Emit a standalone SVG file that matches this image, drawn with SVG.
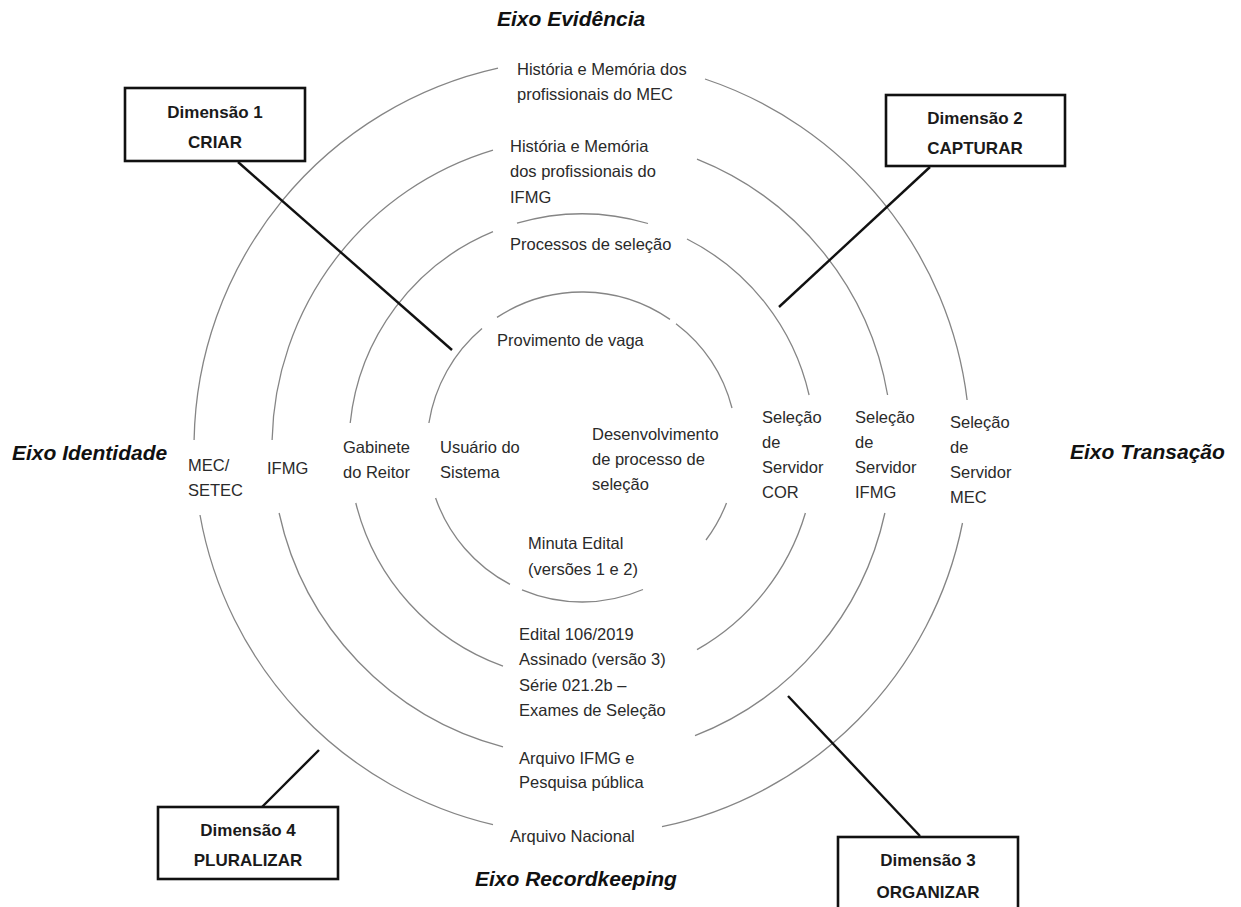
<svg xmlns="http://www.w3.org/2000/svg" width="1241" height="907" viewBox="0 0 1241 907">
<style>
.ring{fill:none;stroke:#858585;stroke-width:1.3}
.lbl{font-family:"Liberation Sans",Arial,sans-serif;font-size:16.5px;fill:#2a2a2a}
.axis{font-family:"Liberation Sans",Arial,sans-serif;font-size:21px;font-weight:bold;font-style:italic;fill:#111}
.box{fill:#fff;stroke:#111;stroke-width:2.6}
.dim{font-family:"Liberation Sans",Arial,sans-serif;font-size:17px;font-weight:bold;fill:#1a1a1a;text-anchor:middle}
.conn{stroke:#111;stroke-width:2.4;fill:none}
</style>
<rect width="1241" height="907" fill="#fff"/>
<g id="rings">
<path class="ring" d="M194.1,440 A388,388 0 0 1 498,68.2"/>
<path class="ring" d="M705,79 A388,388 0 0 1 967.1,400"/>
<path class="ring" d="M962.5,523 A388,388 0 0 1 662,826.7"/>
<path class="ring" d="M493,824.7 A388,388 0 0 1 200,515"/>
<path class="ring" d="M272.1,440 A310,310 0 0 1 493,150.1"/>
<path class="ring" d="M697,159.1 A310,310 0 0 1 887.6,395"/>
<path class="ring" d="M884.9,513 A310,310 0 0 1 695,735.7"/>
<path class="ring" d="M503,746.8 A310,310 0 0 1 279.1,513"/>
<path class="ring" d="M350.2,423 A233,233 0 0 1 493,231.7"/>
<path class="ring" d="M517,223.2 A233,233 0 0 1 648,223.5"/>
<path class="ring" d="M687,239 A233,233 0 0 1 809.1,395"/>
<path class="ring" d="M805.4,513 A233,233 0 0 1 697,649.6"/>
<path class="ring" d="M503,666.2 A233,233 0 0 1 355.8,503"/>
<path class="ring" d="M428.9,423 A155,155 0 0 1 482,328.6"/>
<path class="ring" d="M497,317.4 A155,155 0 0 1 670,319.4"/>
<path class="ring" d="M676,323.8 A155,155 0 0 1 732,408"/>
<path class="ring" d="M726.5,503 A155,155 0 0 1 706,540"/>
<path class="ring" d="M643,589.5 A155,155 0 0 1 522,589.9"/>
<path class="ring" d="M510,584.3 A155,155 0 0 1 435.6,498"/>
</g>
<g id="connectors">
<line class="conn" x1="238" y1="162" x2="452" y2="350"/>
<line class="conn" x1="930" y1="167" x2="779" y2="307"/>
<line class="conn" x1="920" y1="836" x2="788" y2="696"/>
<line class="conn" x1="262" y1="807" x2="319" y2="750"/>
</g>
<g id="axis-evidencia"><text class="axis" x="497" y="26">Eixo Evidência</text></g>
<g id="axis-identidade"><text class="axis" x="12" y="460">Eixo Identidade</text></g>
<g id="axis-transacao"><text class="axis" x="1070" y="459">Eixo Transação</text></g>
<g id="axis-recordkeeping"><text class="axis" x="475" y="886">Eixo Recordkeeping</text></g>
<g id="t-hist-mec"><text class="lbl"><tspan x="517" y="75">História e Memória dos</tspan><tspan x="517" y="100">profissionais do MEC</tspan></text></g>
<g id="t-hist-ifmg"><text class="lbl"><tspan x="510" y="152">História e Memória</tspan><tspan x="510" y="177">dos profissionais do</tspan><tspan x="510" y="203">IFMG</tspan></text></g>
<g id="t-processos"><text class="lbl" x="510" y="250">Processos de seleção</text></g>
<g id="t-provimento"><text class="lbl" x="497" y="346">Provimento de vaga</text></g>
<g id="t-mec-setec"><text class="lbl"><tspan x="188" y="471">MEC/</tspan><tspan x="188" y="496">SETEC</tspan></text></g>
<g id="t-ifmg"><text class="lbl" x="267" y="474">IFMG</text></g>
<g id="t-gabinete"><text class="lbl"><tspan x="343" y="453">Gabinete</tspan><tspan x="343" y="478">do Reitor</tspan></text></g>
<g id="t-usuario"><text class="lbl"><tspan x="440" y="453">Usuário do</tspan><tspan x="440" y="478">Sistema</tspan></text></g>
<g id="t-desenv"><text class="lbl"><tspan x="592" y="440">Desenvolvimento</tspan><tspan x="592" y="465">de processo de</tspan><tspan x="592" y="490">seleção</tspan></text></g>
<g id="t-sel-cor"><text class="lbl"><tspan x="762" y="423">Seleção</tspan><tspan x="762" y="448">de</tspan><tspan x="762" y="473">Servidor</tspan><tspan x="762" y="498">COR</tspan></text></g>
<g id="t-sel-ifmg"><text class="lbl"><tspan x="855" y="423">Seleção</tspan><tspan x="855" y="448">de</tspan><tspan x="855" y="473">Servidor</tspan><tspan x="855" y="498">IFMG</tspan></text></g>
<g id="t-sel-mec"><text class="lbl"><tspan x="950" y="428">Seleção</tspan><tspan x="950" y="453">de</tspan><tspan x="950" y="478">Servidor</tspan><tspan x="950" y="503">MEC</tspan></text></g>
<g id="t-minuta"><text class="lbl"><tspan x="528" y="549">Minuta Edital</tspan><tspan x="528" y="575">(versões 1 e 2)</tspan></text></g>
<g id="t-edital"><text class="lbl"><tspan x="519" y="640">Edital 106/2019</tspan><tspan x="519" y="665">Assinado (versão 3)</tspan><tspan x="519" y="691">Série 021.2b –</tspan><tspan x="519" y="716">Exames de Seleção</tspan></text></g>
<g id="t-arquivo-ifmg"><text class="lbl"><tspan x="519" y="764">Arquivo IFMG e</tspan><tspan x="519" y="788">Pesquisa pública</tspan></text></g>
<g id="t-arquivo-nacional"><text class="lbl" x="510" y="842">Arquivo Nacional</text></g>
<g id="dim1"><rect class="box" x="125" y="88" width="180" height="73"/><text class="dim" x="215" y="118">Dimensão 1</text><text class="dim" x="215" y="148">CRIAR</text></g>
<g id="dim2"><rect class="box" x="886" y="95" width="179" height="71"/><text class="dim" x="975" y="124">Dimensão 2</text><text class="dim" x="975" y="154">CAPTURAR</text></g>
<g id="dim4"><rect class="box" x="158" y="807" width="180" height="72"/><text class="dim" x="248" y="836">Dimensão 4</text><text class="dim" x="248" y="866">PLURALIZAR</text></g>
<g id="dim3"><rect class="box" x="838" y="837" width="180" height="80"/><text class="dim" x="928" y="866">Dimensão 3</text><text class="dim" x="928" y="898">ORGANIZAR</text></g>
</svg>
